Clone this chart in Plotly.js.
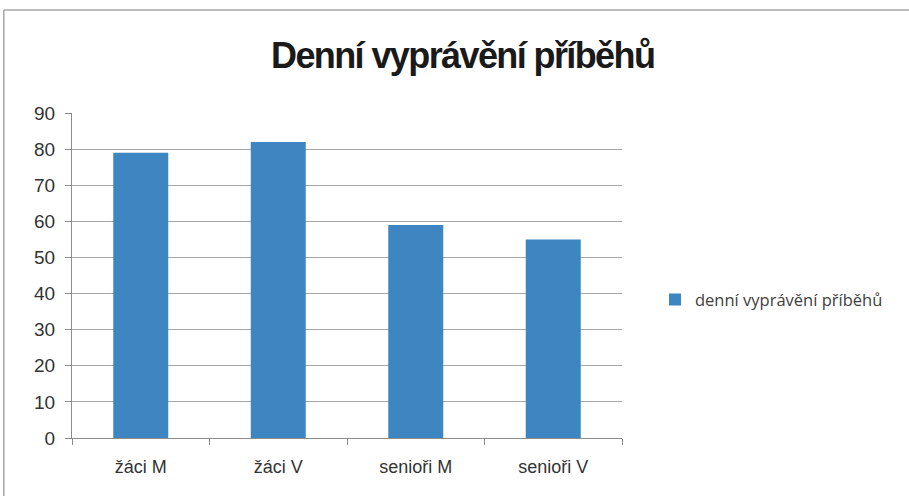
<!DOCTYPE html>
<html>
<head>
<meta charset="utf-8">
<script src="https://cdn.plot.ly/plotly-3.0.1.min.js"></script>
<style>
html,body{margin:0;padding:0;background:#fff;}
.gtitle{letter-spacing:-1.6px;}
</style>
</head>
<body>
<div id="chart" style="width:909px;height:496px;"></div>
<script>
const categories = ["žáci M", "žáci V", "senioři M", "senioři V"];
const values = [79, 82, 59, 55];
const seriesName = "denní vyprávění příběhů";
const yTicks = [0, 10, 20, 30, 40, 50, 60, 70, 80, 90];

const trace = {
  type: "bar",
  x: categories,
  y: values,
  name: seriesName,
  marker: {color: "#3e86c1"},
  showlegend: true,
  hoverinfo: "x+y"
};

const layout = {
  width: 909,
  height: 496,
  margin: {l: 72, r: 287, t: 113, b: 58, pad: 0},
  paper_bgcolor: "#ffffff",
  plot_bgcolor: "#ffffff",
  bargap: 0.6,
  showlegend: true,
  title: {
    text: "<b>Denní vyprávění příběhů</b>",
    font: {family: "Liberation Sans, Arial, sans-serif", size: 36, color: "#1a1a1a"},
    x: 0.509, xref: "container", xanchor: "center",
    y: 0.888, yref: "container", yanchor: "middle"
  },
  xaxis: {
    type: "category",
    showline: true, linecolor: "#8c8c8c", linewidth: 1,
    ticks: "outside", tickson: "boundaries", ticklen: 6, tickcolor: "#8c8c8c",
    ticklabelstandoff: 12,
    tickfont: {family: "Liberation Sans, Arial, sans-serif", size: 18, color: "#333333"},
    showgrid: false, zeroline: false, fixedrange: true
  },
  yaxis: {
    range: [0, 90],
    tickvals: yTicks,
    showline: true, linecolor: "#8c8c8c", linewidth: 1,
    ticks: "outside", ticklen: 6, tickcolor: "#8c8c8c",
    ticklabelstandoff: 6,
    tickfont: {family: "Liberation Sans, Arial, sans-serif", size: 19, color: "#333333"},
    showgrid: true, gridcolor: "#a6a6a6", gridwidth: 1,
    zeroline: false, fixedrange: true
  },
  legend: {
    x: 1.06, xanchor: "left",
    y: 0.425, yanchor: "middle",
    font: {family: "Open Sans, Noto Sans, sans-serif", size: 16.5, color: "#404040"},
    itemwidth: 30,
    bgcolor: "rgba(0,0,0,0)"
  },
  shapes: [
    {type: "line", xref: "paper", yref: "paper", x0: -0.124, x1: 1.7, y0: 1.317, y1: 1.317,
     line: {color: "#a6a6a6", width: 1.5}},
    {type: "line", xref: "paper", yref: "paper", x0: -0.124, x1: -0.124, y0: 1.317, y1: -0.3,
     line: {color: "#a6a6a6", width: 1.5}}
  ]
};

Plotly.newPlot("chart", [trace], layout, {displayModeBar: false, staticPlot: true});
</script>
</body>
</html>
